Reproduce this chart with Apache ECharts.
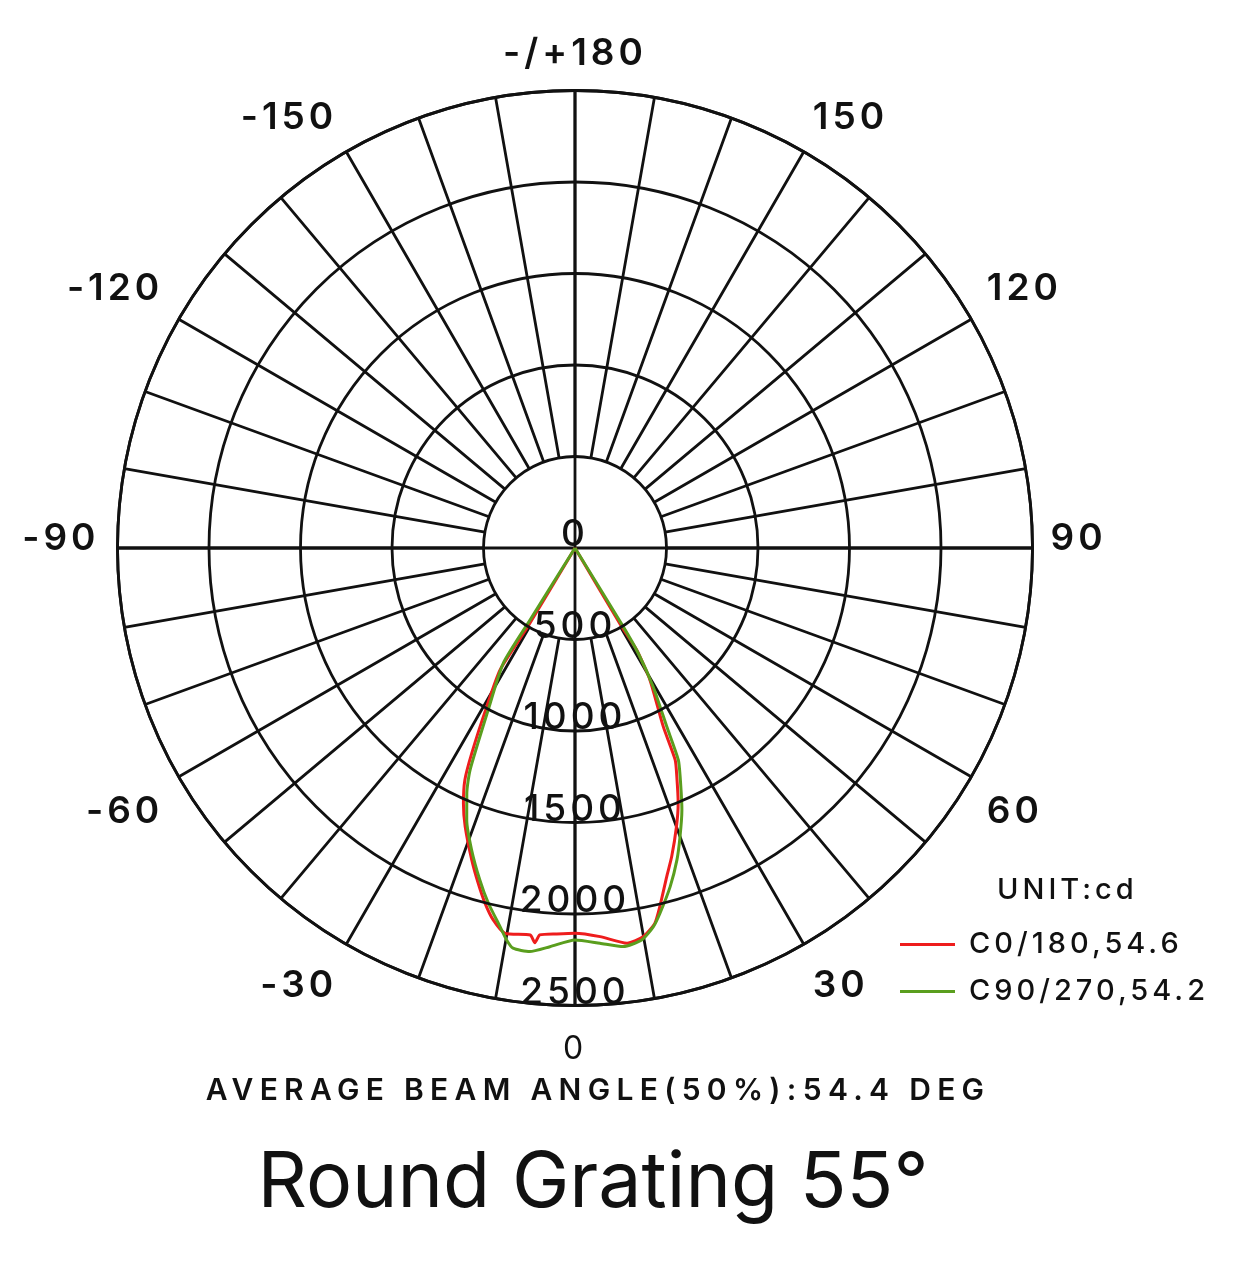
<!DOCTYPE html>
<html>
<head>
<meta charset="utf-8">
<script src="https://cdn.jsdelivr.net/npm/echarts@6/dist/echarts.min.js"></script>
<style>
html,body{margin:0;padding:0;background:#fff;}
#chart{width:1241px;height:1268px;}
</style>
</head>
<body>
<div id="chart"></div>
<script>
// ---- data ----
const angleTickLabels = ['0','30','60','90','120','150','-/+180','-150','-120','-90','-60','-30'];
const radiusTicks = [0, 500, 1000, 1500, 2000, 2500];

const redName = 'C0/180,54.6';
const redAngles = [-90, -31, -31.6, -29.1, -26.7, -25.4, -23.6, -21.5, -18.3, -16.1, -14.2, -12.4, -10.3, -6.6, -5.8, -5.2, -2.7, 0, 3.7, 7.5, 10.0, 12.0, 13.3, 15.6, 17.4, 20.0, 22.0, 24.0, 25.3, 26.3, 29.6, 31.2, 30.7, 90];
const redValues = [0, 500, 780, 992, 1256, 1403, 1523, 1637, 1796, 1907, 2003, 2081, 2140, 2129, 2168, 2123, 2111, 2105, 2128, 2178, 2156, 2097, 2014, 1864, 1767, 1621, 1505, 1368, 1281, 1089, 829, 651, 500, 0];

const greenName = 'C90/270,54.2';
const greenAngles = [-90, -32, -31.9, -28.2, -25.3, -23.8, -21.7, -18.9, -16.0, -13.7, -11.2, -9.9, -8.8, -6.4, -3.6, 0, 3.6, 6.9, 9.7, 11.7, 13.1, 15.7, 18.1, 20.0, 22.2, 24.7, 26.0, 27.2, 29.4, 31.0, 31.5, 90];
const greenValues = [0, 464, 742, 1004, 1342, 1465, 1600, 1744, 1887, 1998, 2109, 2174, 2213, 2219, 2183, 2142, 2164, 2194, 2172, 2113, 2049, 1922, 1793, 1678, 1546, 1375, 1288, 1097, 870, 671, 504, 0];

const unitText = 'UNIT:cd';
const beamText = 'AVERAGE BEAM ANGLE(50%):54.4 DEG';
const titleText = 'Round Grating 55°';

// ---- letter spacing for canvas text (tracking as in the reference) ----
(function () {
  const proto = CanvasRenderingContext2D.prototype;
  if (!('letterSpacing' in proto)) return;
  const orig = proto.fillText;
  proto.fillText = function (t, x, y, mw) {
    const prev = this.letterSpacing;
    const s = String(t);
    let ls = '4px';
    if (s.indexOf('AVERAGE') === 0) ls = '6.3px';
    else if (s.indexOf('Round') === 0) ls = '0px';
    this.letterSpacing = ls;
    if (mw === undefined) orig.call(this, t, x, y); else orig.call(this, t, x, y, mw);
    this.letterSpacing = prev;
  };
})();

function toPolar(angles, values) {
  return angles.map((a, i) => [values[i], a < 0 ? a + 360 : a]);
}

const FONT = 'Inter, "Open Sans", sans-serif';
const INK = '#111';
const C = [575, 548];
const R = 457.5;
const LW = 2.8;

const chart = echarts.init(document.getElementById('chart'), null, {renderer: 'canvas'});
chart.setOption({
  backgroundColor: '#fff',
  animation: false,
  polar: [
    {center: C, radius: R},
    {center: C, radius: [R / 5, R]},
    {center: C, radius: R}
  ],
  angleAxis: [
    {
      polarIndex: 0, type: 'value', min: 0, max: 360, interval: 30,
      startAngle: 270, clockwise: false,
      axisLine: {show: true, lineStyle: {color: INK, width: LW}},
      axisTick: {show: false},
      splitLine: {show: false},
      axisLabel: {
        show: true, margin: 18, color: INK, fontSize: 37, fontWeight: 600, fontFamily: FONT,
        formatter: function (v) {
          const idx = Math.round(v / 30) % 12;
          const t = angleTickLabels[idx];
          if (idx === 0) return '{z|' + t + '}';
          if (idx === 1 || idx === 2 || idx === 10 || idx === 11) return '{lo|' + t + '}';
          if (idx === 3 || idx === 9) return '{mid|' + t + '}';
          if (idx === 4 || idx === 8) return '{up|' + t + '}';
          return t;
        },
        rich: {
          z: {fontSize: 32, fontWeight: 400, fontFamily: FONT, color: INK, padding: [10, 0, 0, 0]},
          lo: {fontSize: 37, fontWeight: 600, fontFamily: FONT, color: INK, padding: [8, 0, 0, 0]},
          mid: {fontSize: 37, fontWeight: 600, fontFamily: FONT, color: INK, padding: [0, 0, 18, 0]},
          up: {fontSize: 37, fontWeight: 600, fontFamily: FONT, color: INK, padding: [0, 0, 3, 0]}
        }
      }
    },
    {
      polarIndex: 1, type: 'value', min: 0, max: 360, interval: 10,
      startAngle: 270, clockwise: false,
      axisLine: {show: false}, axisTick: {show: false}, axisLabel: {show: false},
      splitLine: {show: true, lineStyle: {color: INK, width: LW}}
    },
    {
      polarIndex: 2, type: 'value', min: 0, max: 360, interval: 90,
      startAngle: 270, clockwise: false,
      axisLine: {show: false}, axisTick: {show: false}, axisLabel: {show: false},
      splitLine: {show: true, lineStyle: {color: INK, width: LW}}
    }
  ],
  radiusAxis: [
    {
      polarIndex: 0, type: 'value', min: radiusTicks[0], max: radiusTicks[radiusTicks.length - 1], interval: 500,
      axisLine: {show: false}, axisTick: {show: false},
      splitLine: {show: true, lineStyle: {color: INK, width: LW}},
      axisLabel: {
        show: true, margin: 0, rotate: 0, align: 'center', verticalAlign: 'bottom',
        lineHeight: 26,
        showMinLabel: true, showMaxLabel: true,
        color: INK, fontSize: 37, fontWeight: 500, fontFamily: FONT,
        formatter: function (v) { return String(v); }
      },
      z: 5
    },
    {polarIndex: 1, type: 'value', min: 0, max: 1, show: false},
    {polarIndex: 2, type: 'value', min: 0, max: 1, show: false}
  ],
  legend: {
    data: [{name: redName, icon: 'rect'}, {name: greenName, icon: 'rect'}],
    orient: 'vertical', left: 895, top: 925,
    itemWidth: 55, itemHeight: 3, itemGap: 18,
    textStyle: {color: INK, fontSize: 29, fontWeight: 500, fontFamily: FONT, padding: [0, 0, 0, 9]}
  },
  series: [
    {
      name: redName, type: 'line', coordinateSystem: 'polar', polarIndex: 0,
      data: toPolar(redAngles, redValues), symbol: 'none', smooth: 0.2,
      lineStyle: {color: '#ee1d1d', width: 3}, itemStyle: {color: '#ee1d1d'}, z: 3
    },
    {
      name: greenName, type: 'line', coordinateSystem: 'polar', polarIndex: 0,
      data: toPolar(greenAngles, greenValues), symbol: 'none', smooth: 0.2,
      lineStyle: {color: '#5a9e1e', width: 3}, itemStyle: {color: '#5a9e1e'}, z: 4
    }
  ],
  graphic: [
    {type: 'text', x: 997, y: 890, style: {text: unitText, fill: INK, fontSize: 29, fontWeight: 500, fontFamily: FONT, textAlign: 'left', verticalAlign: 'middle', textVerticalAlign: 'middle'}},
    {type: 'text', x: 598, y: 1091, style: {text: beamText, fill: INK, fontSize: 30, fontWeight: 600, fontFamily: FONT, textAlign: 'center', verticalAlign: 'middle', textVerticalAlign: 'middle'}},
    {type: 'text', x: 593, y: 1184, style: {text: titleText, fill: INK, fontSize: 77, fontWeight: 400, fontFamily: FONT, textAlign: 'center', verticalAlign: 'middle', textVerticalAlign: 'middle'}}
  ]
});
</script>
</body>
</html>
